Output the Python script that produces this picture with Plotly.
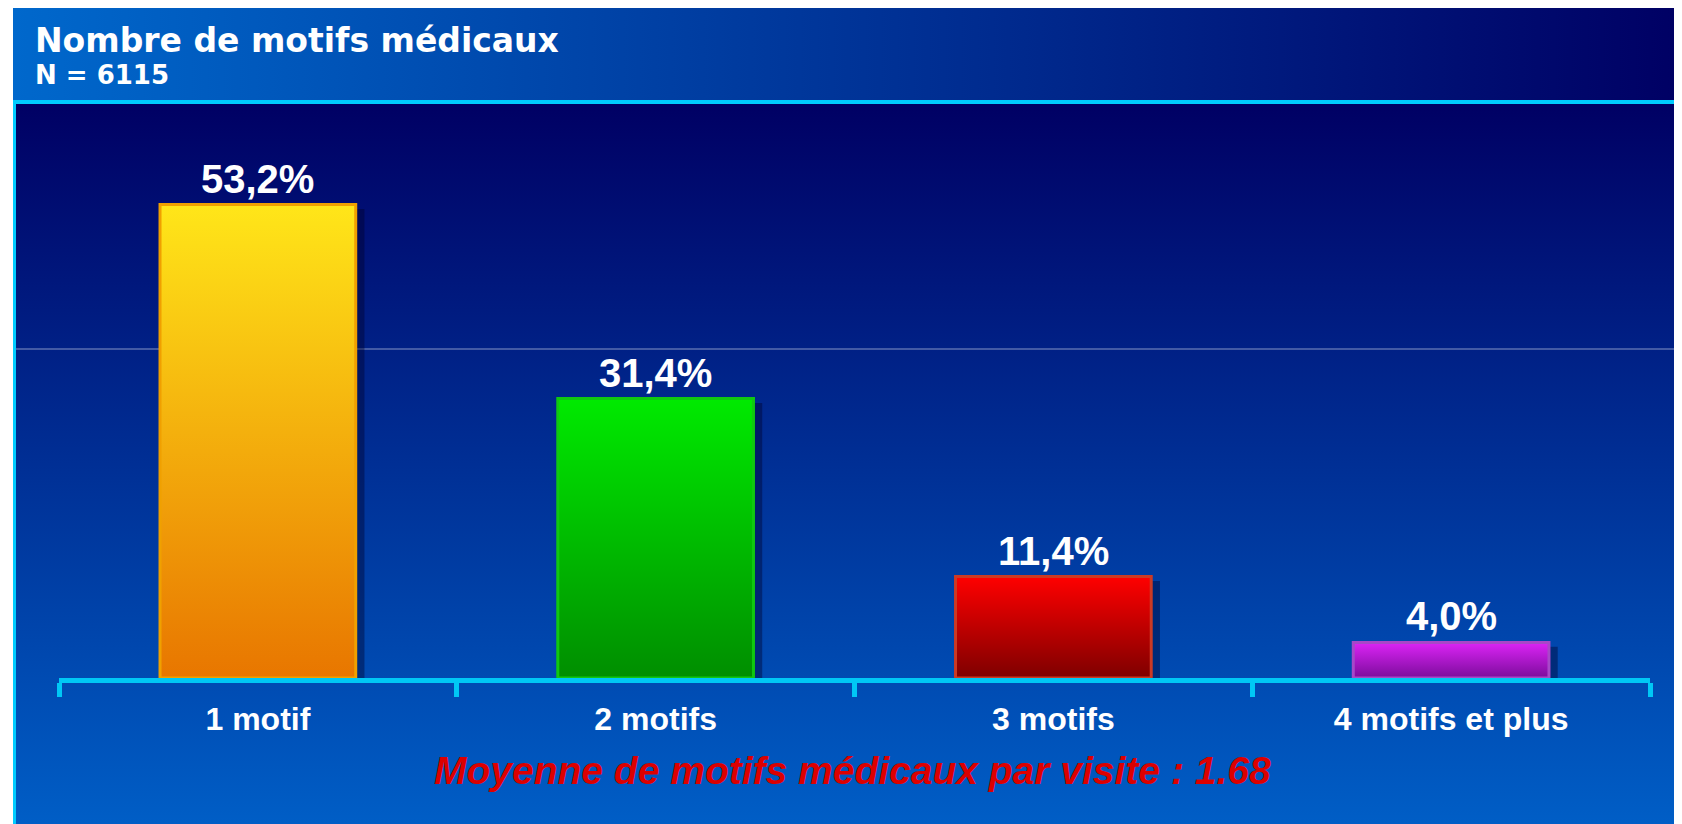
import base64
import plotly.graph_objects as go

# ── Data ──────────────────────────────────────────────────────────────────────
CATEGORIES = ["1 motif", "2 motifs", "3 motifs", "4 motifs et plus"]
PERCENTS = [53.2, 31.4, 11.4, 4.0]
LABELS = ["53,2%", "31,4%", "11,4%", "4,0%"]
TITLE = "Nombre de motifs médicaux"
SUBTITLE = "N = 6115"
NOTE = "Moyenne de motifs médicaux par visite : 1.68"

# ── Style ─────────────────────────────────────────────────────────────────────
BAR_TOP = ["#ffe619", "#00ea00", "#ff0000", "#dc24f6"]
BAR_BOTTOM = ["#e87600", "#008e00", "#7e0000", "#7c0c9c"]
BAR_EDGE = ["#f0a000", "#10c810", "#cc3a24", "#a848c8"]
CYAN = "#00c8f5"

FIG_W, FIG_H = 1682, 824
OFF = 8                      # page body margin, positions below are page pixels
PLOT_X0, PLOT_X1 = 59, 1650  # page pixels
PLOT_Y0, PLOT_Y1 = 104, 678
L, R = PLOT_X0 - OFF, FIG_W - (PLOT_X1 - OFF)
T, B = PLOT_Y0 - OFF, FIG_H - (PLOT_Y1 - OFF)
PW, PH = PLOT_X1 - PLOT_X0, PLOT_Y1 - PLOT_Y0
HALF = 0.246


def px(x):
    return (x - PLOT_X0) / PW


def py(y):
    return 1 - (y - PLOT_Y0) / PH


def gradient_svg(c0, c1, horizontal):
    x2, y2 = ("1", "0") if horizontal else ("0", "1")
    svg = (
        "<svg xmlns='http://www.w3.org/2000/svg' width='100' height='100' "
        "viewBox='0 0 100 100' preserveAspectRatio='none'><defs>"
        f"<linearGradient id='g' x1='0' y1='0' x2='{x2}' y2='{y2}'>"
        f"<stop offset='0' stop-color='{c0}'/><stop offset='1' stop-color='{c1}'/>"
        "</linearGradient></defs><rect width='100' height='100' fill='url(#g)'/></svg>"
    )
    return "data:image/svg+xml;base64," + base64.b64encode(svg.encode()).decode()


fig = go.Figure()

# bar shadows then bars (gradient filled polygons on a numeric axis)
for i, v in enumerate(PERCENTS):
    s = 0.022
    fig.add_trace(go.Scatter(
        x=[i - HALF + s, i - HALF + s, i + HALF + s, i + HALF + s],
        y=[0, v - 0.5, v - 0.5, 0],
        fill="toself", fillcolor="rgba(0,0,40,0.40)",
        line=dict(width=0), mode="lines", hoverinfo="skip", showlegend=False,
    ))
for i, v in enumerate(PERCENTS):
    fig.add_trace(go.Scatter(
        x=[i - HALF, i - HALF, i + HALF, i + HALF, i - HALF],
        y=[0, v, v, 0, 0],
        fill="toself",
        fillgradient=dict(type="vertical", start=0, stop=v,
                          colorscale=[[0, BAR_BOTTOM[i]], [1, BAR_TOP[i]]]),
        line=dict(color=BAR_EDGE[i], width=3),
        mode="lines", name=CATEGORIES[i], showlegend=False,
        hovertemplate=f"{CATEGORIES[i]}: {LABELS[i]}<extra></extra>",
    ))

# value labels above bars
value_labels = [
    dict(x=i, y=v, xref="x", yref="y", text=LABELS[i], showarrow=False,
         xanchor="center", yanchor="bottom", yshift=2,
         font=dict(family="Liberation Sans", size=40, color="white", weight="bold"))
    for i, v in enumerate(PERCENTS)
]

fig.update_layout(
    width=FIG_W, height=FIG_H,
    margin=dict(l=L, r=R, t=T, b=B, pad=0),
    paper_bgcolor="white",
    plot_bgcolor="rgba(0,0,0,0)",
    xaxis=dict(
        range=[-0.5, len(CATEGORIES) - 0.5],
        tickmode="array", tickvals=list(range(len(CATEGORIES))), ticktext=CATEGORIES,
        ticks="", ticklabelstandoff=9,
        tickfont=dict(family="Liberation Sans", size=32, color="white", weight="bold"),
        showline=True, linecolor=CYAN, linewidth=5,
        showgrid=False, zeroline=False, fixedrange=True,
        minor=dict(tickmode="array",
                   tickvals=[k - 0.5 for k in range(len(CATEGORIES) + 1)],
                   ticks="outside", ticklen=14, tickwidth=5, tickcolor=CYAN,
                   showgrid=False),
    ),
    yaxis=dict(range=[0, 64.5], visible=False, showgrid=False, fixedrange=True),
    images=[
        dict(source=gradient_svg("#0068cc", "#000064", True),
             xref="paper", yref="paper", x=px(13), y=py(5),
             sizex=(FIG_W - 13) / PW, sizey=95 / PH,
             xanchor="left", yanchor="top", sizing="stretch", layer="below"),
        dict(source=gradient_svg("#000064", "#005ec6", False),
             xref="paper", yref="paper", x=px(16), y=py(104),
             sizex=(FIG_W - 16) / PW, sizey=(FIG_H - 104) / PH,
             xanchor="left", yanchor="top", sizing="stretch", layer="below"),
    ],
    shapes=[
        dict(type="rect", xref="paper", yref="paper", layer="below",
             x0=px(13), x1=px(FIG_W + OFF), y0=py(100), y1=py(104),
             fillcolor="#00ccff", line=dict(width=0)),
        dict(type="rect", xref="paper", yref="paper", layer="below",
             x0=px(13), x1=px(16), y0=py(100), y1=py(FIG_H + OFF),
             fillcolor="#00ccff", line=dict(width=0)),
        dict(type="line", xref="paper", yref="paper", layer="below",
             x0=px(16), x1=px(FIG_W + OFF), y0=py(349), y1=py(349),
             line=dict(color="rgba(190,200,225,0.7)", width=1)),
    ],
    annotations=value_labels + [
        dict(text=TITLE, xref="paper", yref="paper", x=px(33), y=py(41),
             xanchor="left", yanchor="middle", showarrow=False,
             font=dict(family="DejaVu Sans", size=33, color="white", weight="bold")),
        dict(text=SUBTITLE, xref="paper", yref="paper", x=px(33), y=py(75),
             xanchor="left", yanchor="middle", showarrow=False,
             font=dict(family="DejaVu Sans", size=26, color="white", weight="bold")),
        dict(text=NOTE, xref="paper", yref="paper", x=px(852), y=py(771),
             xanchor="center", yanchor="middle", showarrow=False,
             font=dict(family="Liberation Sans", size=39, color="#dc0000",
                       weight="bold", style="italic")),
    ],
)

fig.write_html("out.html")
